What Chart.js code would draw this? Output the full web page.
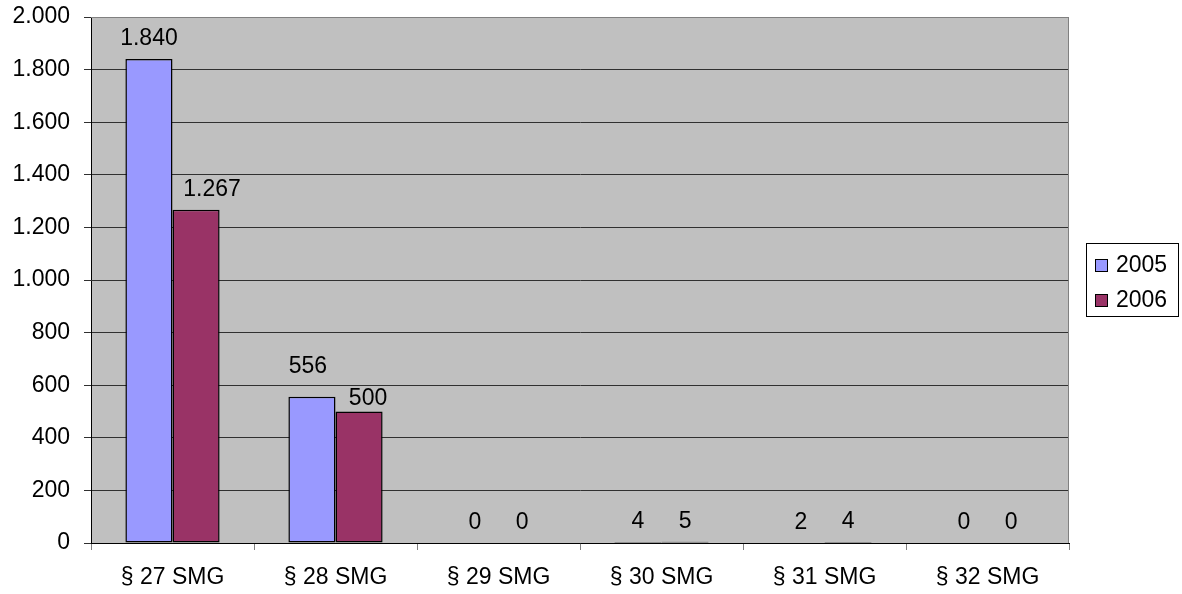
<!DOCTYPE html>
<html>
<head>
<meta charset="utf-8">
<script src="https://cdn.jsdelivr.net/npm/chart.js@4.4.1/dist/chart.umd.min.js"></script>
<style>
  body { margin: 0; background: #fff; }
  canvas { display: block; }
</style>
</head>
<body>
<canvas id="chart" width="1182" height="594"></canvas>
<script>
// daten
const categories = ["§ 27 SMG", "§ 28 SMG", "§ 29 SMG", "§ 30 SMG", "§ 31 SMG", "§ 32 SMG"]
const seriesNames = ["2005", "2006"]
const values2005 = [1840, 556, 0, 4, 2, 0]
const values2006 = [1267, 500, 0, 5, 4, 0]
const yTicks = [0, 200, 400, 600, 800, 1000, 1200, 1400, 1600, 1800, 2000]

const colors = ["#9999FF", "#993366"]
const FONT = "'Liberation Sans', Arial, sans-serif"
const FS = 23

// tausender mit punkt
function fmt(v) {
    return String(v).replace(/\B(?=(\d{3})+(?!\d))/g, ".")
}

// kleine verschiebungen der beschriftungen (wie im original)
const labelNudge = {
    "1-0": { dx: 16, dy: 0 },
    "0-1": { dx: -4, dy: -10 },
    "1-1": { dx: 9, dy: 7 }
}

const plotBg = {
    id: "plotBg",
    beforeDraw(chart) {
        const { ctx, chartArea: a } = chart
        ctx.save()
        ctx.fillStyle = "#C0C0C0"
        ctx.fillRect(a.left, a.top, a.right - a.left, a.bottom - a.top)
        ctx.restore()
    },
    afterDatasetsDraw(chart) {
        const { ctx, chartArea: a } = chart
        ctx.save()
        ctx.strokeStyle = "#808080"
        ctx.lineWidth = 1
        ctx.beginPath()
        ctx.moveTo(a.left, a.top + 0.5)
        ctx.lineTo(a.right - 0.5, a.top + 0.5)
        ctx.lineTo(a.right - 0.5, a.bottom)
        ctx.stroke()
        ctx.restore()
    }
}

const valueLabels = {
    id: "valueLabels",
    afterDatasetsDraw(chart) {
        const ctx = chart.ctx
        ctx.save()
        ctx.font = FS + "px " + FONT
        ctx.fillStyle = "#000"
        ctx.textAlign = "center"
        ctx.textBaseline = "middle"
        chart.data.datasets.forEach((ds, di) => {
            chart.getDatasetMeta(di).data.forEach((bar, i) => {
                const n = labelNudge[di + "-" + i] || { dx: 0, dy: 0 }
                ctx.fillText(fmt(ds.data[i]), bar.x + n.dx, bar.y - 20 + n.dy)
            })
        })
        ctx.restore()
    }
}

const boxLegend = {
    id: "boxLegend",
    afterDraw(chart) {
        const ctx = chart.ctx
        ctx.save()
        ctx.strokeStyle = "#000"
        ctx.lineWidth = 1
        ctx.strokeRect(1086.5, 243.5, 92, 73)
        ctx.font = FS + "px " + FONT
        ctx.textBaseline = "middle"
        seriesNames.forEach((name, i) => {
            const y = 265 + i * 35
            ctx.fillStyle = colors[i]
            ctx.fillRect(1095, y - 6, 12, 12)
            ctx.strokeStyle = "#000"
            ctx.strokeRect(1095.5, y - 5.5, 12, 12)
            ctx.fillStyle = "#000"
            ctx.fillText(name, 1116, y + 1)
        })
        ctx.restore()
    }
}

Chart.defaults.font.family = FONT
Chart.defaults.font.size = FS
Chart.defaults.color = "#000"

new Chart(document.getElementById("chart"), {
    type: "bar",
    data: {
        labels: categories,
        datasets: [
            { label: seriesNames[0], data: values2005, backgroundColor: colors[0] },
            { label: seriesNames[1], data: values2006, backgroundColor: colors[1] }
        ]
    },
    options: {
        responsive: false,
        animation: false,
        devicePixelRatio: 1,
        layout: { padding: { left: 0, top: 17, right: 113, bottom: 0 } },
        datasets: {
            bar: {
                borderColor: "#000",
                borderWidth: 1.5,
                borderSkipped: false,
                categoryPercentage: 0.578,
                barPercentage: 1
            }
        },
        plugins: {
            legend: { display: false },
            tooltip: { enabled: false }
        },
        scales: {
            x: {
                afterFit: s => { s.height = 51; s.paddingLeft = 0; s.paddingRight = 0 },
                grid: {
                    offset: true,
                    drawOnChartArea: false,
                    drawTicks: true,
                    tickLength: 7,
                    color: "#808080"
                },
                border: { color: "#000", width: 1 },
                ticks: { padding: 14, maxRotation: 0 }
            },
            y: {
                min: 0,
                max: 2000,
                afterFit: s => { s.width = 91; s.paddingTop = 0; s.paddingBottom = 0 },
                afterBuildTicks: s => { s.ticks = yTicks.map(v => ({ value: v })) },
                grid: {
                    color: c => (c.tick && c.tick.value === 2000) ? "#808080" : "#303030",
                    tickColor: "#303030",
                    tickLength: 7
                },
                border: { color: "#000", width: 1 },
                ticks: { padding: 14, callback: v => fmt(v) }
            }
        }
    },
    plugins: [plotBg, valueLabels, boxLegend]
})
</script>
</body>
</html>
